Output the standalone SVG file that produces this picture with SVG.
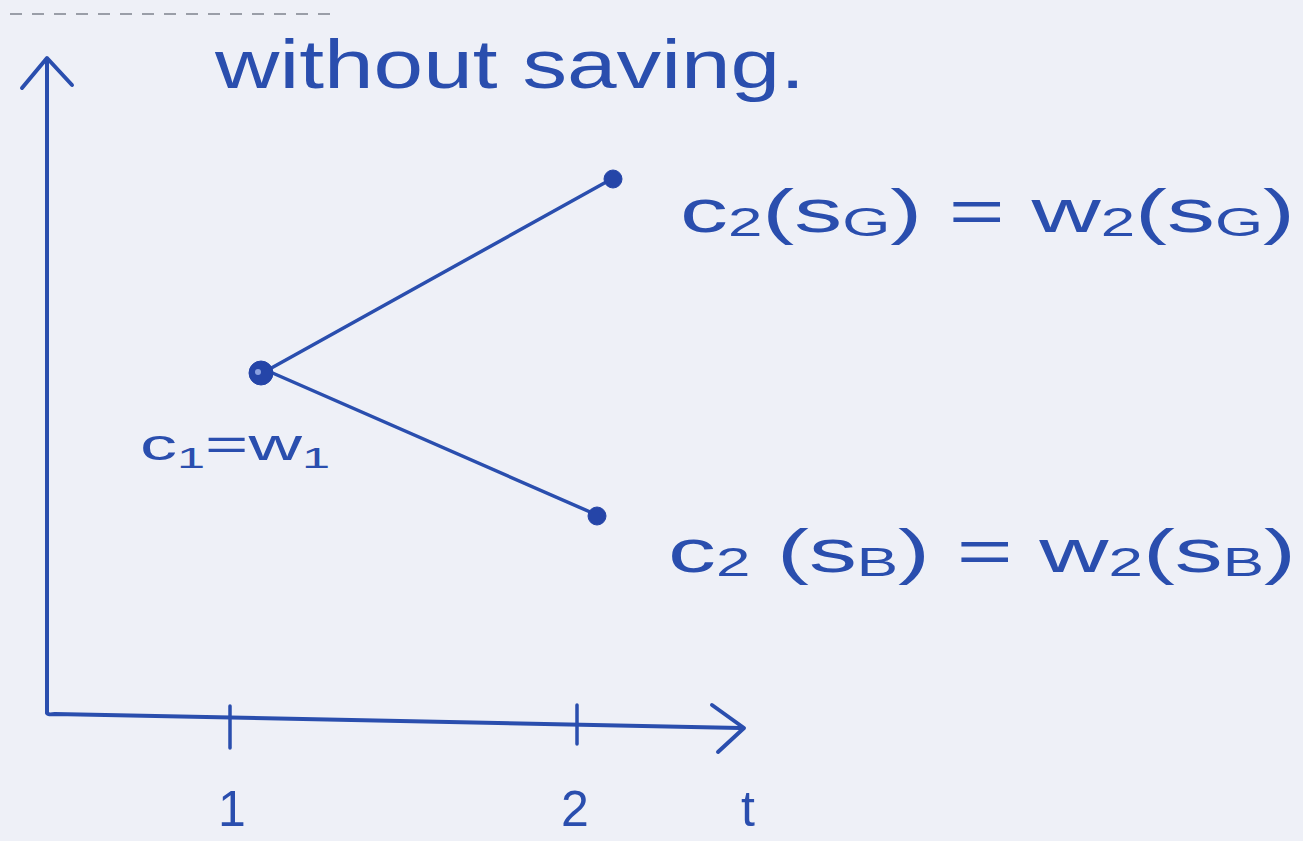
<svg xmlns="http://www.w3.org/2000/svg" width="1303" height="841" viewBox="0 0 1303 841">
<style>
.ink{stroke:#2a4eae;fill:none;stroke-linecap:round;stroke-linejoin:round}
.t{font-family:"Liberation Sans",Arial,sans-serif;fill:#2a4eae}
.dot{fill:#2545a8;stroke:#2545a8}
</style>
<rect width="1303" height="841" fill="#eef0f7"/>
<path d="M10 14 H330 V9" stroke="#9a9ea8" stroke-width="2" stroke-dasharray="12 10" fill="none"/>
<g id="axes">
<path class="ink" stroke-width="4" d="M47 60 V713 Q48 715 55 714 L740 728"/>
<path class="ink" stroke-width="4" d="M22 88 L47 58 L72 85"/>
<path class="ink" stroke-width="4" d="M712 705 L744 728 L718 752"/>
<path class="ink" stroke-width="3.5" d="M230 706 V748 M577 705 V744"/>
</g>
<g id="title"><text class="t" x="215" y="88" font-size="68" textLength="590" lengthAdjust="spacingAndGlyphs">without saving.</text></g>
<g id="connectors">
<path class="ink" stroke-width="3.5" d="M266 371 L608 181"/>
<path class="ink" stroke-width="3.5" d="M268 371 L597 515"/>
</g>
<g id="node-c1">
<circle class="dot" cx="261" cy="373" r="12"/>
<circle cx="258" cy="372" r="3" fill="#8aa0e0"/>
<text class="t" x="140" y="460" font-size="44" textLength="190" lengthAdjust="spacingAndGlyphs">c<tspan font-size="30" dy="8">1</tspan><tspan dy="-8">=w</tspan><tspan font-size="30" dy="8">1</tspan></text>
</g>
<g id="node-good">
<circle class="dot" cx="613" cy="179" r="9"/>
<text class="t" x="680" y="232" font-size="62" textLength="615" lengthAdjust="spacingAndGlyphs">c<tspan font-size="40" dy="4">2</tspan><tspan dy="-4">(s</tspan><tspan font-size="40" dy="4">G</tspan><tspan dy="-4">) = w</tspan><tspan font-size="40" dy="4">2</tspan><tspan dy="-4">(s</tspan><tspan font-size="40" dy="4">G</tspan><tspan dy="-4">)</tspan></text>
</g>
<g id="node-bad">
<circle class="dot" cx="597" cy="516" r="9"/>
<text class="t" x="668" y="572" font-size="62" textLength="628" lengthAdjust="spacingAndGlyphs">c<tspan font-size="40" dy="4">2</tspan><tspan dy="-4"> (s</tspan><tspan font-size="40" dy="4">B</tspan><tspan dy="-4">) = w</tspan><tspan font-size="40" dy="4">2</tspan><tspan dy="-4">(s</tspan><tspan font-size="40" dy="4">B</tspan><tspan dy="-4">)</tspan></text>
</g>
<g id="ticks-labels">
<text class="t" x="232" y="826" font-size="50" text-anchor="middle">1</text>
<text class="t" x="575" y="826" font-size="50" text-anchor="middle">2</text>
<text class="t" x="748" y="826" font-size="50" text-anchor="middle">t</text>
</g>
</svg>
